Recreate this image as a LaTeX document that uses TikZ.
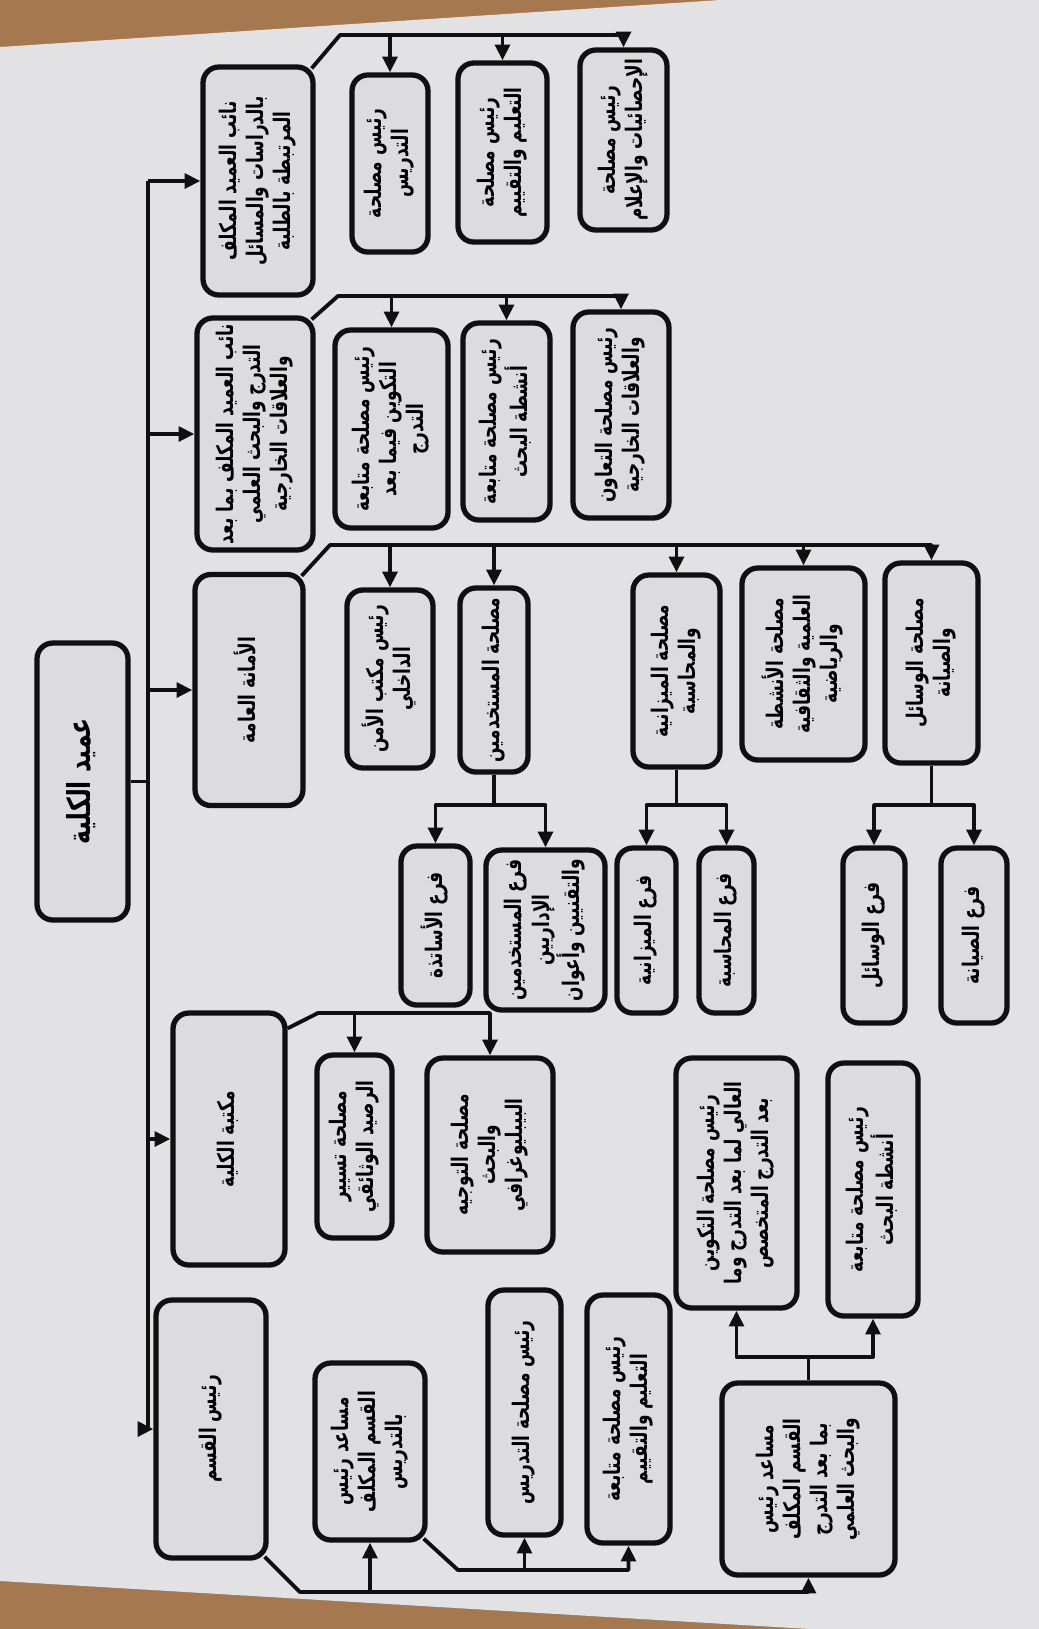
\documentclass[tikz,border=0pt]{standalone}
\usepackage{fontspec}
\usepackage{graphicx}
\newfontfamily\arabicfont[Script=Arabic, FakeStretch=0.74]{DejaVu Sans}
\TeXXeTstate=1
\definecolor{papel}{RGB}{226,226,229}
\definecolor{cajaGris}{RGB}{220,220,223}
\definecolor{madera}{RGB}{166,120,80}
\definecolor{tinta}{RGB}{16,16,16}
\usetikzlibrary{arrows.meta,calc}
\tikzstyle{box}  =[draw=tinta, fill=cajaGris, rounded corners=4.5pt,
                   line width=1.5pt, inner sep=1pt,
                   font=\arabicfont\bfseries\fontsize{6.5}{7.7}\selectfont]
\tikzstyle{edge} =[draw=tinta, line width=1.1pt, line join=round]
\tikzstyle{arrow}=[edge, -{Triangle[length=4.5pt,width=4.2pt]}]
\tikzset{sz/.style 2 args={minimum width=#1*0.01cm, minimum height=#2*0.01cm}}
\newcommand{\linea}[1]{\beginR #1\endR}
\newcommand{\vtxt}[1]{\rotatebox{90}{\begin{tabular}{@{}c@{}}#1\end{tabular}}}

\begin{document}
\begin{tikzpicture}[x=0.01cm, y=-0.01cm]
    \useasboundingbox (0,0) rectangle (1039,1629);

    % fondo
    \fill[madera] (0,0) rectangle (1039,1629);
    \fill[papel] (0,47) -- (720,0) -- (1039,0) -- (1039,1629) -- (810,1629) -- (0,1581) -- cycle;

    % decano
    \draw (82.5,781.5) node (dec) [box, sz={91}{277},
        font=\arabicfont\bfseries\fontsize{9}{11}\selectfont] {\vtxt{\linea{عميد الكلية}}};

    % primer nivel
    \draw (258,181) node (b1) [box, sz={110}{228}] {\vtxt{\linea{نائب العميد المكلف}\\ \linea{بالدراسات والمسائل}\\ \linea{المرتبطة بالطلبة}}};
    \draw (255,434) node (b2) [box, sz={116}{232}] {\vtxt{\linea{نائب العميد المكلف بما بعد}\\ \linea{التدرج والبحث العلمي}\\ \linea{والعلاقات الخارجية}}};
    \draw (249,690) node (b3) [box, sz={108}{231}] {\vtxt{\linea{الأمانة العامة}}};
    \draw (229,1139) node (b4) [box, sz={112}{252}] {\vtxt{\linea{مكتبة الكلية}}};
    \draw (211,1429) node (b5) [box, sz={110}{258}] {\vtxt{\linea{رئيس القسم}}};

    % nائب الدراسات
    \draw (390,163.5) node (c1a) [box, sz={76}{177}] {\vtxt{\linea{رئيس مصلحة}\\ \linea{التدريس}}};
    \draw (502.5,152.5) node (c1b) [box, sz={89}{179}] {\vtxt{\linea{رئيس مصلحة}\\ \linea{التعليم والتقييم}}};
    \draw (623.5,140) node (c1c) [box, sz={87}{180}] {\vtxt{\linea{رئيس مصلحة}\\ \linea{الإحصائيات والإعلام}}};

    % ما بعد التدرج
    \draw (391.5,429) node (c2a) [box, sz={113}{198}] {\vtxt{\linea{رئيس مصلحة متابعة}\\ \linea{التكوين فيما بعد}\\ \linea{التدرج}}};
    \draw (506.5,421.5) node (c2b) [box, sz={87}{197}] {\vtxt{\linea{رئيس مصلحة متابعة}\\ \linea{أنشطة البحث}}};
    \draw (621,415) node (c2c) [box, sz={96}{206}] {\vtxt{\linea{رئيس مصلحة التعاون}\\ \linea{والعلاقات الخارجية}}};

    % الأمانة العامة
    \draw (390,679) node (c3a) [box, sz={86}{178}] {\vtxt{\linea{رئيس مكتب الأمن}\\ \linea{الداخلي}}};
    \draw (494,680) node (c3b) [box, sz={68}{184}] {\vtxt{\linea{مصلحة المستخدمين}}};
    \draw (676.5,671) node (c3c) [box, sz={87}{192}] {\vtxt{\linea{مصلحة الميزانية}\\ \linea{والمحاسبة}}};
    \draw (803.5,664) node (c3d) [box, sz={123}{192}] {\vtxt{\linea{مصلحة الأنشطة}\\ \linea{العلمية والثقافية}\\ \linea{والرياضية}}};
    \draw (931.5,663) node (c3e) [box, sz={93}{200}] {\vtxt{\linea{مصلحة الوسائل}\\ \linea{والصيانة}}};

    \draw (435.5,925.5) node (g1) [box, sz={69}{159}] {\vtxt{\linea{فرع الأساتذة}}};
    \draw (545.5,930) node (g2) [box, sz={119}{160}] {\vtxt{\linea{فرع المستخدمين}\\ \linea{الإداريين}\\ \linea{والتقنيين وأعوان}}};
    \draw (646.5,930.5) node (g3) [box, sz={59}{165}] {\vtxt{\linea{فرع الميزانية}}};
    \draw (726.5,930.5) node (g4) [box, sz={55}{165}] {\vtxt{\linea{فرع المحاسبة}}};
    \draw (874,935.5) node (g5) [box, sz={62}{175}] {\vtxt{\linea{فرع الوسائل}}};
    \draw (974,935.5) node (g6) [box, sz={66}{175}] {\vtxt{\linea{فرع الصيانة}}};

    % مكتبة
    \draw (354.5,1146.5) node (l1) [box, sz={75}{183}] {\vtxt{\linea{مصلحة تسيير}\\ \linea{الرصيد الوثائقي}}};
    \draw (490,1155) node (l2) [box, sz={126}{194}] {\vtxt{\linea{مصلحة التوجيه}\\ \linea{والبحث}\\ \linea{البيبليوغرافي}}};

    % رئيس القسم
    \draw (370,1451.5) node (d1) [box, sz={110}{177}] {\vtxt{\linea{مساعد رئيس}\\ \linea{القسم المكلف}\\ \linea{بالتدريس}}};
    \draw (524.5,1412.5) node (d2) [box, sz={73}{245}] {\vtxt{\linea{رئيس مصلحة التدريس}}};
    \draw (628.5,1419) node (d3) [box, sz={83}{248}] {\vtxt{\linea{رئيس مصلحة متابعة}\\ \linea{التعليم والتقييم}}};
    \draw (808.5,1479) node (d4) [box, sz={173}{192}] {\vtxt{\linea{مساعد رئيس}\\ \linea{القسم المكلف}\\ \linea{بما بعد التدرج}\\ \linea{والبحث العلمي}}};
    \draw (736.5,1183) node (e1) [box, sz={121}{250}] {\vtxt{\linea{رئيس مصلحة التكوين}\\ \linea{العالي لما بعد التدرج وما}\\ \linea{بعد التدرج المتخصص}}};
    \draw (873,1189.5) node (e2) [box, sz={90}{253}] {\vtxt{\linea{رئيس مصلحة متابعة}\\ \linea{أنشطة البحث}}};

    % conectores
    \coordinate (tronco) at (148,0);
    \coordinate (k1) at (340,35);
    \coordinate (k2) at (338,296);
    \coordinate (k3) at (330,545);
    \coordinate (k4) at (318,1013);
    \coordinate (k5) at (300,1592);
    \coordinate (k6) at (458,1570);
    \coordinate (k7) at (0,805);
    \coordinate (k8) at (0,1357);

    \draw[edge] (dec.east) -- (tronco |- dec.east);
    \draw[edge] (tronco |- b1.west) -- (tronco |- b5.west);
    \foreach \b in {b1,b2,b3,b4,b5}
        \draw[arrow] (tronco |- \b.west) -- (\b.west);

    \draw[arrow] ($(b1.north east)+(-4,4)$) -- (k1) -| (c1c.north);
    \foreach \c in {c1a,c1b}
        \draw[arrow] (k1 -| \c.north) -- (\c.north);

    \draw[arrow] ($(b2.north east)+(-4,4)$) -- (k2) -| (c2c.north);
    \foreach \c in {c2a,c2b}
        \draw[arrow] (k2 -| \c.north) -- (\c.north);

    \draw[arrow] ($(b3.north east)+(-4,4)$) -- (k3) -| (c3e.north);
    \foreach \c in {c3a,c3b,c3c,c3d}
        \draw[arrow] (k3 -| \c.north) -- (\c.north);

    \draw[arrow] ($(b4.north east)+(0,18)$) -- (k4) -| (l2.north);
    \draw[arrow] (k4 -| l1.north) -- (l1.north);

    \foreach \p/\i/\j in {c3b/g1/g2, c3c/g3/g4, c3e/g5/g6} {
        \draw[arrow] (\p.south) -- (\p.south |- k7) -| (\i.north);
        \draw[arrow] (\p.south |- k7) -| (\j.north);
    }

    \draw[arrow] ($(b5.south east)+(-4,-4)$) -- (k5) -| (d4.south);
    \draw[arrow] (k5 -| d1.south) -- (d1.south);
    \draw[arrow] ($(d1.south east)+(-4,-4)$) -- (k6) -| (d3.south);
    \draw[arrow] (k6 -| d2.south) -- (d2.south);

    \draw[arrow] (d4.north) -- (d4.north |- k8) -| (e1.south);
    \draw[arrow] (d4.north |- k8) -| (e2.south);
\end{tikzpicture}
\end{document}
